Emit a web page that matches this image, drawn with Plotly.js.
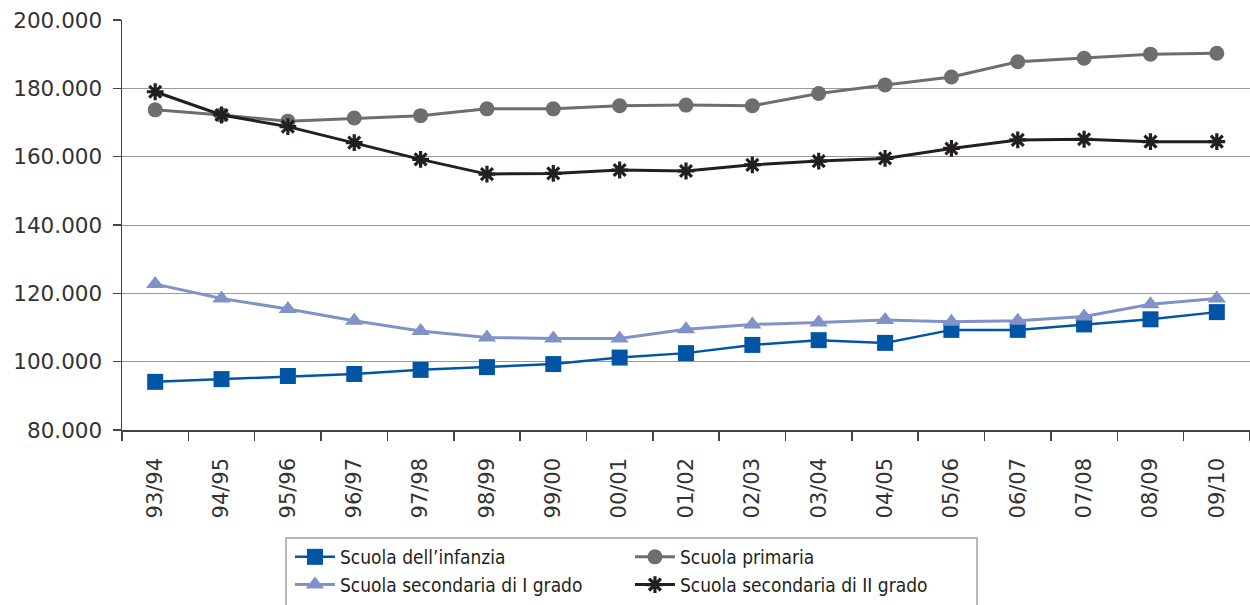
<!DOCTYPE html>
<html>
<head>
<meta charset="utf-8">
<script src="https://cdn.plot.ly/plotly-3.0.1.min.js"></script>
<style>
html,body{margin:0;padding:0;background:#fff;}
#chart{width:1250px;height:605px;}
</style>
</head>
<body>
<div id="chart"></div>
<script>
var anni = ["93/94","94/95","95/96","96/97","97/98","98/99","99/00","00/01","01/02","02/03","03/04","04/05","05/06","06/07","07/08","08/09","09/10"];
var infanzia = [94100,94900,95800,96400,97600,98400,99300,101200,102500,104900,106300,105500,109300,109300,110900,112400,114500];
var primaria = [173700,172200,170400,171300,172000,174000,174000,174900,175100,174900,178500,181000,183300,187800,188800,190000,190250];
var secondariaI = [122700,118500,115400,112000,109000,107100,106800,106800,109500,110900,111500,112200,111700,112000,113200,116800,118500];
var secondariaII = [179000,172200,168800,164100,159200,154900,155100,156100,155800,157600,158700,159500,162400,164900,165100,164400,164400];

var nomi = ["Scuola dell\u2019infanzia","Scuola primaria","Scuola secondaria di I grado","Scuola secondaria di II grado"];

var traces = [
  {x: anni, y: infanzia, name: nomi[0], type: 'scatter', mode: 'lines+markers', legend: 'legend',
   line: {color: '#0055a5', width: 2.5},
   marker: {symbol: 'square', size: 16, color: '#0055a5'}},
  {x: anni, y: secondariaI, name: nomi[2], type: 'scatter', mode: 'lines+markers', legend: 'legend',
   line: {color: '#8192c9', width: 3},
   marker: {symbol: 'triangle-up', size: 16, color: '#8192c9'}},
  {x: anni, y: primaria, name: nomi[1], type: 'scatter', mode: 'lines+markers', legend: 'legend2',
   line: {color: '#6e6e70', width: 3},
   marker: {symbol: 'circle', size: 15, color: '#6e6e70'}},
  {x: anni, y: secondariaII, name: nomi[3], type: 'scatter', mode: 'lines+markers', legend: 'legend2',
   line: {color: '#231f20', width: 3},
   marker: {symbol: 'asterisk-open', size: 14, color: '#231f20', line: {color: '#231f20', width: 3.2}}}
];

var legendFont = {size: 19, color: '#231f20', family: 'DejaVu Sans Condensed, DejaVu Sans, sans-serif'};

var layout = {
  width: 1250, height: 605,
  margin: {l: 122, r: 0, t: 20, b: 175, autoexpand: false},
  paper_bgcolor: '#fff', plot_bgcolor: '#fff',
  separators: ',.',
  showlegend: true,
  font: {family: 'DejaVu Sans, sans-serif', color: '#2b2b2b'},
  xaxis: {
    type: 'category',
    tickangle: -90,
    tickson: 'boundaries',
    ticks: 'outside', ticklen: 9, tickcolor: '#444', tickwidth: 1.5,
    showline: true, linecolor: '#444', linewidth: 1.5,
    showgrid: false,
    automargin: false,
    ticklabelstandoff: 18,
    tickfont: {size: 21, color: '#333', family: 'DejaVu Sans, sans-serif'},
    range: [-0.5, 16.5]
  },
  yaxis: {
    range: [80000, 200000],
    dtick: 20000, tick0: 80000,
    tickformat: ',d',
    ticks: 'outside', ticklen: 8, tickcolor: '#444', tickwidth: 1.5,
    showline: true, linecolor: '#444', linewidth: 1.5,
    showgrid: true, gridcolor: '#9a9a9a', gridwidth: 1,
    zeroline: false,
    automargin: false,
    ticklabelstandoff: 6,
    tickfont: {size: 21.5, color: '#333', family: 'DejaVu Sans, sans-serif'}
  },
  legend: {
    orientation: 'v',
    x: 0.1489, xanchor: 'left',
    y: -0.2634, yanchor: 'top',
    borderwidth: 0, bgcolor: 'rgba(0,0,0,0)',
    itemwidth: 40,
    font: legendFont,
    traceorder: 'normal'
  },
  legend2: {
    orientation: 'v',
    x: 0.4503, xanchor: 'left',
    y: -0.2634, yanchor: 'top',
    borderwidth: 0, bgcolor: 'rgba(0,0,0,0)',
    itemwidth: 40,
    font: legendFont,
    traceorder: 'normal'
  },
  shapes: [
    {type: 'rect', xref: 'paper', yref: 'paper',
     x0: 0.1454, x1: 0.7580, y0: -0.2634, y1: -0.46,
     line: {color: '#a0a0a0', width: 1.5}, fillcolor: 'rgba(0,0,0,0)', layer: 'below'}
  ]
};

Plotly.newPlot('chart', traces, layout, {displayModeBar: false, staticPlot: true});
</script>
</body>
</html>
